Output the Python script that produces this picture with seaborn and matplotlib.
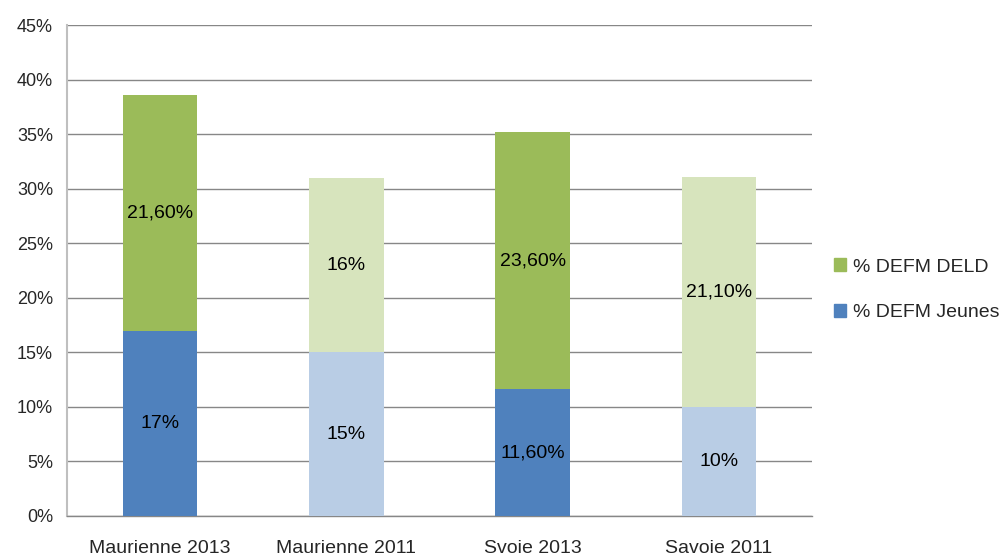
import numpy as np
import matplotlib.pyplot as plt
import seaborn as sns
from matplotlib.patches import Patch

# Données
categories = ['Maurienne 2013', 'Maurienne 2011', 'Svoie 2013', 'Savoie 2011']
jeunes = [17.0, 15.0, 11.6, 10.0]
deld = [21.6, 16.0, 23.6, 21.1]
labels_jeunes = ['17%', '15%', '11,60%', '10%']
labels_deld = ['21,60%', '16%', '23,60%', '21,10%']

# Couleurs : foncé pour 2013, clair pour 2011
col_jeunes = ['#4F81BD', '#B9CDE5', '#4F81BD', '#B9CDE5']
col_deld = ['#9BBB59', '#D7E4BD', '#9BBB59', '#D7E4BD']

sns.set_style('white')
plt.rcParams['font.family'] = ['Liberation Sans', 'DejaVu Sans']

fig = plt.figure(figsize=(10.04, 5.57), dpi=100)
ax = fig.add_axes([67 / 1004, 41 / 557, 745 / 1004, 491 / 557])

totaux = np.array(jeunes) + np.array(deld)
sns.barplot(x=categories, y=totaux, hue=categories, palette=col_deld,
            width=0.4, legend=False, ax=ax, saturation=1, linewidth=0, zorder=3)
sns.barplot(x=categories, y=jeunes, hue=categories, palette=col_jeunes,
            width=0.4, legend=False, ax=ax, saturation=1, linewidth=0, zorder=3)

# Étiquettes des valeurs
for i in range(len(categories)):
    ax.text(i, jeunes[i] / 2, labels_jeunes[i], ha='center', va='center',
            fontsize=14, color='black', zorder=4)
    ax.text(i, jeunes[i] + deld[i] / 2, labels_deld[i], ha='center', va='center',
            fontsize=14, color='black', zorder=4)

ax.set_ylim(0, 45)
ax.set_xlim(-0.5, 3.5)
yt = np.arange(0, 46, 5)
ax.set_yticks(yt)
ax.set_yticklabels([f'{v}%' for v in yt], fontsize=13)
ax.set_xticks(range(len(categories)))
ax.set_xticklabels(categories, fontsize=14)
ax.set_xticks(np.arange(-0.5, 4, 1), minor=True)
ax.tick_params(axis='x', which='major', length=0, pad=17)
ax.tick_params(axis='x', which='minor', length=6, color='#878787', width=1)
ax.tick_params(axis='y', length=6, color='#878787', width=1, pad=4)
ax.grid(axis='y', color='#878787', linewidth=1, zorder=0)
ax.set_axisbelow(True)
ax.set_xlabel('')
ax.set_ylabel('')

for s in ['top', 'right']:
    ax.spines[s].set_visible(False)
ax.spines['left'].set_color('#BFBFBF')
ax.spines['left'].set_linewidth(1.5)
ax.spines['bottom'].set_color('#878787')
ax.spines['bottom'].set_linewidth(1)

handles = [Patch(color='#9BBB59', label='% DEFM DELD'),
           Patch(color='#4F81BD', label='% DEFM Jeunes')]
fig.legend(handles=handles, loc='center left', bbox_to_anchor=(816 / 1004, 0.48),
           frameon=False, fontsize=14, handlelength=0.65, handleheight=0.65,
           handletextpad=0.35, labelspacing=1.45)

fig.savefig('out.png', dpi=100)
